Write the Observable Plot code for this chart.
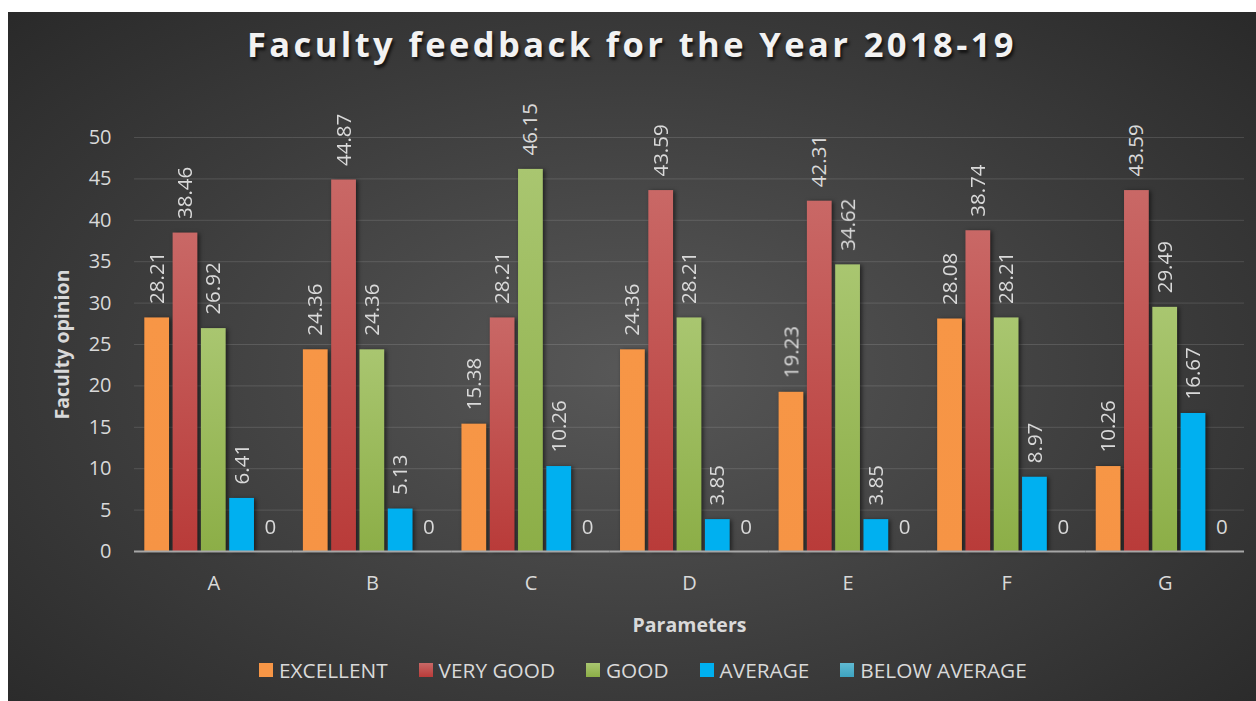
<!DOCTYPE html>
<html>
<head>
<meta charset="utf-8">
<script src="https://cdn.jsdelivr.net/npm/d3@7"></script>
<script src="https://cdn.jsdelivr.net/npm/@observablehq/plot@0.6"></script>
<style>
  html, body { margin: 0; padding: 0; background: #ffffff; }
  #chart {
    position: absolute; left: 8px; top: 12px; width: 1248px; height: 689px;
    background: radial-gradient(ellipse 75% 80% at 50% 52%, #585858 0%, #3c3c3c 55%, #262626 100%);
    overflow: hidden; font-family: "Open Sans", sans-serif;
  }
  #title {
    position: absolute; left: 0; top: 9px; width: 1248px; text-align: center;
    font-weight: 700; font-size: 34.5px; letter-spacing: 3.4px; color: #f2f2f2;
    text-shadow: 2px 3px 3px rgba(0,0,0,0.65); line-height: 46px;
  }
  #plot { position: absolute; left: 0; top: 0; }
  #plot svg { overflow: visible; }
  #plot g[aria-label="bar"] { filter: drop-shadow(2px 1px 2px rgba(0,0,0,0.55)); }
  #legend {
    position: absolute; left: 251px; top: 645px; display: flex; align-items: center;
    font-size: 20.8px; color: #d9d9d9; height: 26px;
  }
  .item { display: flex; align-items: center; margin-right: 31px; }
  .sw { width: 14px; height: 14px; margin-right: 6px; }
</style>
</head>
<body>
<svg width="0" height="0" style="position:absolute">
  <defs>
    <linearGradient id="gOrange" x1="0" y1="0" x2="0" y2="1">
      <stop offset="0" stop-color="#f79646"/><stop offset="1" stop-color="#f69445"/>
    </linearGradient>
    <linearGradient id="gRed" x1="0" y1="0" x2="0" y2="1">
      <stop offset="0" stop-color="#c96866"/><stop offset="1" stop-color="#b93b39"/>
    </linearGradient>
    <linearGradient id="gGreen" x1="0" y1="0" x2="0" y2="1">
      <stop offset="0" stop-color="#a9c670"/><stop offset="1" stop-color="#8cae47"/>
    </linearGradient>
    <linearGradient id="gBlue" x1="0" y1="0" x2="0" y2="1">
      <stop offset="0" stop-color="#00b0f0"/><stop offset="1" stop-color="#00b0f0"/>
    </linearGradient>
    <linearGradient id="gTeal" x1="0" y1="0" x2="0" y2="1">
      <stop offset="0" stop-color="#60bad2"/><stop offset="1" stop-color="#3da3c0"/>
    </linearGradient>
  </defs>
</svg>
<div id="chart">
  <div id="title">Faculty feedback for the Year 2018-19</div>
  <div id="plot"></div>
  <div id="legend"></div>
</div>
<script>
const params = ["A", "B", "C", "D", "E", "F", "G"];
const series = ["EXCELLENT", "VERY GOOD", "GOOD", "AVERAGE", "BELOW AVERAGE"];
const excellent    = [28.21, 24.36, 15.38, 24.36, 19.23, 28.08, 10.26];
const veryGood     = [38.46, 44.87, 28.21, 43.59, 42.31, 38.74, 43.59];
const good         = [26.92, 24.36, 46.15, 28.21, 34.62, 28.21, 29.49];
const average      = [6.41, 5.13, 10.26, 3.85, 3.85, 8.97, 16.67];
const belowAverage = [0, 0, 0, 0, 0, 0, 0];
const yTicks = [0, 5, 10, 15, 20, 25, 30, 35, 40, 45, 50];

const seriesValues = [excellent, veryGood, good, average, belowAverage];
const fills = ["url(#gOrange)", "url(#gRed)", "url(#gGreen)", "url(#gBlue)", "url(#gTeal)"];
const swatch = ["#f79646", "linear-gradient(#c96866,#b93b39)", "linear-gradient(#a9c670,#8cae47)", "#00b0f0", "linear-gradient(#60bad2,#3da3c0)"];

const data = [];
params.forEach((p, i) => series.forEach((s, j) => data.push({param: p, series: s, value: seriesValues[j][i]})));

const labelColor = "#d9d9d9";

const chart = Plot.plot({
  width: 1248,
  height: 640,
  marginLeft: 126,
  marginRight: 12,
  marginTop: 125,
  marginBottom: 101,
  style: {background: "transparent", color: labelColor, fontFamily: "Open Sans, sans-serif", fontSize: "20px"},
  fx: {domain: params, padding: 0, round: false, label: null},
  x: {domain: series, paddingInner: 0.125, paddingOuter: 0.364, round: false, axis: null},
  y: {domain: [0, 50], axis: null},
  color: {domain: series, range: fills},
  marks: [
    Plot.gridY(yTicks, {stroke: "#ffffff", strokeOpacity: 0.13, strokeWidth: 1}),
    Plot.axisY({ticks: yTicks, tickSize: 0, tickPadding: 23, fontSize: 20, label: "Faculty opinion", labelAnchor: "center", labelOffset: 79, labelArrow: false}),
    Plot.axisFx({anchor: "bottom", tickSize: 0, tickPadding: 24, fontSize: 20, label: "Parameters", labelAnchor: "center", labelOffset: 80, labelArrow: false}),
    Plot.barY(data, {fx: "param", x: "series", y: "value", fill: "series"}),
    Plot.ruleY([0], {stroke: "#a6a6a6", strokeWidth: 2}),
    Plot.text(data.filter(d => d.value > 0), {fx: "param", x: "series", y: "value", text: d => String(d.value), rotate: -90, textAnchor: "start", dy: -14, fill: labelColor, fontSize: 20.5}),
    Plot.text(data.filter(d => d.value === 0), {fx: "param", x: "series", y: "value", text: d => String(d.value), textAnchor: "middle", dy: -24, fill: labelColor, fontSize: 20.5})
  ]
});
document.getElementById("plot").appendChild(chart);

// bold axis labels
d3.select(chart).selectAll('g[aria-label="y-axis label"] text, g[aria-label="fx-axis label"] text')
  .attr("font-weight", "700").attr("font-size", "19.5px");

const legend = d3.select("#legend");
series.forEach((s, j) => {
  const it = legend.append("div").attr("class", "item");
  it.append("div").attr("class", "sw").style("background", swatch[j]);
  it.append("span").text(s);
});
</script>
</body>
</html>
